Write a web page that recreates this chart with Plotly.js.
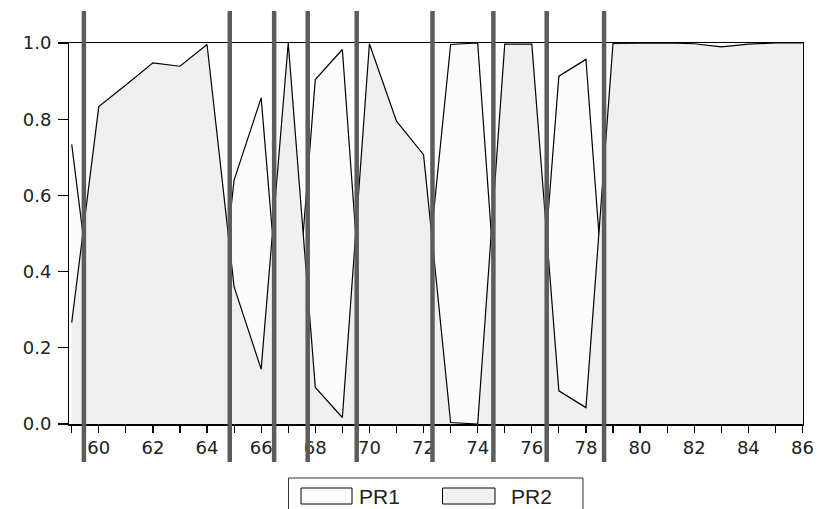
<!DOCTYPE html>
<html>
<head>
<meta charset="utf-8">
<script src="https://cdn.plot.ly/plotly-3.0.1.min.js"></script>
<style>html,body{margin:0;padding:0;background:#fff;}</style>
</head>
<body>
<div id="chart" style="width:819px;height:509px;"></div>
<script>
// ---- data ----
const years = [59,60,61,62,63,64,65,66,67,68,69,70,71,72,73,74,75,76,77,78,79,80,81,82,83,84,85,86];
const pr1 = [0.734,0.167,0.110,0.052,0.061,0.004,0.640,0.856,0.000,0.904,0.983,0.002,0.205,0.293,0.996,1.000,0.003,0.003,0.913,0.957,0.001,0.000,0.000,0.002,0.010,0.003,0.000,0.000];
const pr2 = [0.266,0.833,0.890,0.948,0.939,0.996,0.360,0.144,1.000,0.096,0.017,0.998,0.795,0.707,0.004,0.000,0.997,0.997,0.087,0.043,0.999,1.000,1.000,0.998,0.990,0.997,1.000,1.000];
const breakYears = [59.45,64.84,66.48,67.72,69.53,72.33,74.58,76.55,78.67];
const xTickVals = [59,60,61,62,63,64,65,66,67,68,69,70,71,72,73,74,75,76,77,78,79,80,81,82,83,84,85,86];
const xTickText = ['','60','','62','','64','','66','','68','','70','','72','','74','','76','','78','','80','','82','','84','','86'];
const yTickVals = [0,0.2,0.4,0.6,0.8,1.0];
const yTickText = ['0.0','0.2','0.4','0.6','0.8','1.0'];
const seriesNames = ['PR1','PR2'];

// ---- geometry helpers (pixels -> paper) ----
const W = 819, H = 509, L = 69, R = 16, T = 43, B = 85;
const PW = W - L - R, PH = H - T - B;
const px = x => (x - L) / PW;
const py = y => (H - B - y) / PH;

const traces = [
  {x: years, y: pr1, name: seriesNames[0], type: 'scatter', mode: 'lines', fill: 'tozeroy',
   fillcolor: '#fcfcfc', line: {color: '#000', width: 1.2}, hoverinfo: 'skip', showlegend: false},
  {x: years, y: pr2, name: seriesNames[1], type: 'scatter', mode: 'lines', fill: 'tozeroy',
   fillcolor: '#f0f0f0', line: {color: '#000', width: 1.2}, hoverinfo: 'skip', showlegend: false}
];

const shapes = breakYears.map(v => ({
  type: 'line', xref: 'x', yref: 'paper', x0: v, x1: v, y0: py(462), y1: py(11),
  line: {color: '#5c5c5c', width: 4.5}, layer: 'above'
}));

// legend box and swatches
shapes.push({type: 'rect', xref: 'paper', yref: 'paper', x0: px(288.5), x1: px(583), y0: py(530), y1: py(478),
  line: {color: '#333', width: 1}, fillcolor: 'rgba(0,0,0,0)'});
shapes.push({type: 'rect', xref: 'paper', yref: 'paper', x0: px(301), x1: px(352), y0: py(504), y1: py(488),
  line: {color: '#000', width: 1}, fillcolor: '#fcfcfc'});
shapes.push({type: 'rect', xref: 'paper', yref: 'paper', x0: px(442.5), x1: px(495), y0: py(504), y1: py(488),
  line: {color: '#000', width: 1}, fillcolor: '#f0f0f0'});

const annotations = [
  {xref: 'paper', yref: 'paper', x: px(357), y: py(496), xanchor: 'left', yanchor: 'middle', showarrow: false,
   text: seriesNames[0], font: {family: 'Liberation Sans, Arial', size: 21, color: '#222'}},
  {xref: 'paper', yref: 'paper', x: px(509), y: py(496), xanchor: 'left', yanchor: 'middle', showarrow: false,
   text: seriesNames[1], font: {family: 'Liberation Sans, Arial', size: 21, color: '#222'}}
];

const tickFont = {family: 'DejaVu Sans, Liberation Sans', size: 18, color: '#222'};

const layout = {
  width: W, height: H,
  margin: {l: L, r: R, t: T, b: B, pad: 0},
  paper_bgcolor: '#fff', plot_bgcolor: '#fff',
  showlegend: false,
  xaxis: {range: [58.9, 86.02], tickvals: xTickVals, ticktext: xTickText, ticks: 'outside', ticklen: 7,
          tickcolor: '#000', tickwidth: 1.2, showline: true, mirror: true, linecolor: '#000', linewidth: 1.5,
          showgrid: false, zeroline: false, tickfont: tickFont, fixedrange: true},
  yaxis: {range: [0, 1], tickvals: yTickVals, ticktext: yTickText, ticks: 'outside', ticklen: 10,
          tickcolor: '#000', tickwidth: 1.2, showline: true, mirror: true, linecolor: '#000', linewidth: 1,
          showgrid: false, zeroline: false, tickfont: tickFont, ticklabelstandoff: 3, fixedrange: true},
  shapes: shapes,
  annotations: annotations
};

Plotly.newPlot('chart', traces, layout, {displayModeBar: false, staticPlot: true});
</script>
</body>
</html>
